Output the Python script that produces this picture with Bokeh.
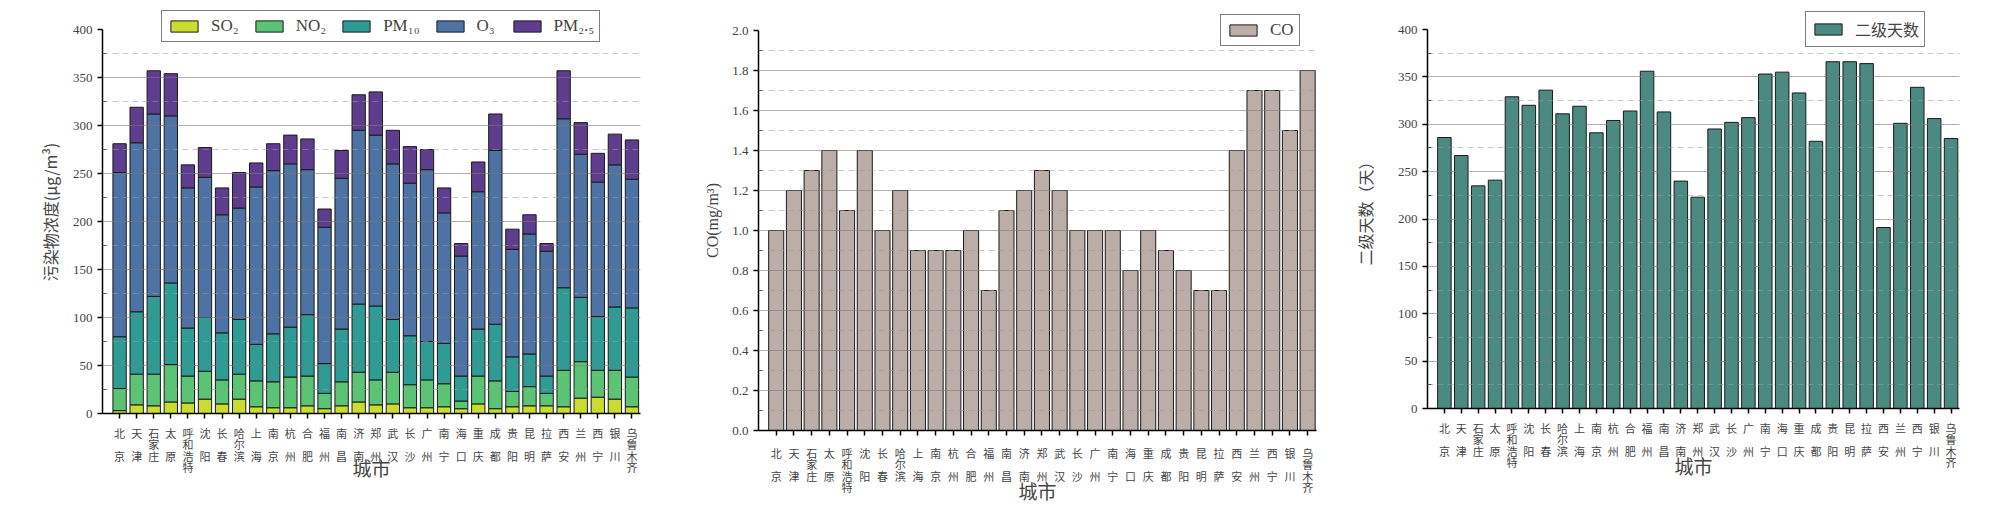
from bokeh.plotting import figure
from bokeh.layouts import row
from bokeh.models import FixedTicker, Legend, LegendItem, ColumnDataSource, Range1d, PrintfTickFormatter
from bokeh.embed import file_html
from bokeh.resources import INLINE

cities = ["北京", "天津", "石家庄", "太原", "呼和浩特", "沈阳", "长春", "哈尔滨", "上海", "南京",
          "杭州", "合肥", "福州", "南昌", "济南", "郑州", "武汉", "长沙", "广州", "南宁",
          "海口", "重庆", "成都", "贵阳", "昆明", "拉萨", "西安", "兰州", "西宁", "银川", "乌鲁木齐"]

so2 = [3, 9, 8, 12, 11, 15, 10, 15, 7, 6, 6, 8, 5, 8, 12, 9, 10, 6, 6, 7, 5, 10, 5, 7, 8, 8, 7, 16, 17, 15, 7]
no2 = [23, 32, 33, 39, 28, 29, 25, 26, 27, 27, 32, 31, 16, 25, 31, 26, 33, 24, 29, 24, 8, 29, 29, 16, 20, 13, 38, 38, 28, 30, 31]
pm10 = [54, 65, 81, 85, 50, 56, 49, 57, 38, 50, 52, 64, 31, 55, 71, 77, 55, 51, 40, 42, 26, 49, 59, 36, 34, 18, 86, 67, 56, 66, 72]
o3 = [171, 176, 190, 174, 146, 146, 123, 116, 164, 170, 170, 151, 142, 157, 181, 178, 162, 159, 179, 136, 125, 143, 181, 112, 125, 130, 176, 149, 140, 148, 134]
pm25 = [30, 37, 45, 44, 24, 31, 28, 37, 25, 28, 30, 32, 19, 29, 37, 45, 35, 38, 21, 26, 13, 31, 38, 21, 20, 8, 50, 33, 30, 32, 41]
co = [1.0, 1.2, 1.3, 1.4, 1.1, 1.4, 1.0, 1.2, 0.9, 0.9, 0.9, 1.0, 0.7, 1.1, 1.2, 1.3, 1.2, 1.0, 1.0, 1.0, 0.8, 1.0, 0.9, 0.8, 0.7, 0.7, 1.4, 1.7, 1.7, 1.5, 1.8]
days = [286, 267, 235, 241, 329, 320, 336, 311, 319, 291, 304, 314, 356, 313, 240, 223, 295, 302, 307, 353, 355, 333, 282, 366, 366, 364, 191, 301, 339, 306, 285]

pollutant_labels = ["SO₂", "NO₂", "PM₁₀", "O₃", "PM₂.₅"]
pollutant_colors = ["#c9dc2f", "#5bc474", "#2e9b95", "#4d72a4", "#5e3d8f"]

xs = list(range(1, len(cities) + 1))


def tick_label(c):
    if len(c) == 2:
        return c[0] + "\n\n" + c[1]
    return "\n".join(c)


tick_labels = {i: tick_label(c) for i, c in zip(xs, cities)}

SERIF = "Liberation Serif"
CJK = "Noto Sans CJK SC"
TOP = 10
BOTTOM = 80


def make_fig(fw, fh, bl, br, yr):
    p = figure(frame_width=fw, frame_height=fh, min_border_left=bl, min_border_right=br,
               min_border_top=TOP, min_border_bottom=BOTTOM, output_backend="svg",
               toolbar_location=None, x_range=Range1d(0, 31.5), y_range=Range1d(*yr),
               outline_line_color=None, background_fill_color="white")
    return p


def style(p, ylabel, yticks, yminor, gticks, gminor, ylabel_font, ybounds, fmt=None,
          lab_standoff=6, xl_standoff=-4, yl_standoff=8):
    xa = p.xaxis[0]
    xa.ticker = FixedTicker(ticks=xs)
    xa.major_label_overrides = tick_labels
    xa.major_label_text_font = CJK
    xa.major_label_text_font_size = "11px"
    xa.major_label_text_line_height = 0.72
    xa.major_label_standoff = lab_standoff
    xa.major_tick_out = 5
    xa.major_tick_in = 0
    xa.minor_tick_out = 0
    xa.minor_tick_in = 0
    xa.axis_line_width = 1.5
    xa.major_tick_line_width = 1.5
    xa.axis_label = "城市"
    xa.axis_label_text_font = CJK
    xa.axis_label_text_font_size = "19px"
    xa.axis_label_text_font_style = "normal"
    xa.axis_label_standoff = xl_standoff

    ya = p.yaxis[0]
    ya.ticker = FixedTicker(ticks=yticks, minor_ticks=yminor)
    ya.bounds = ybounds
    if fmt:
        ya.formatter = PrintfTickFormatter(format=fmt)
    ya.major_label_text_font = SERIF
    ya.major_label_text_font_size = "13px"
    ya.major_tick_out = 5
    ya.major_tick_in = 0
    ya.minor_tick_out = 0
    ya.minor_tick_in = 4
    ya.axis_line_width = 1.5
    ya.major_tick_line_width = 1.5
    ya.axis_label = ylabel
    ya.axis_label_text_font = ylabel_font
    ya.axis_label_text_font_size = "16px"
    ya.axis_label_text_font_style = "normal"
    ya.axis_label_standoff = yl_standoff

    p.xgrid.visible = False
    g = p.ygrid[0]
    g.ticker = FixedTicker(ticks=gticks, minor_ticks=gminor)
    g.grid_line_color = "#7a7a7a"
    g.grid_line_alpha = 0.6
    g.grid_line_width = 1.2
    g.minor_grid_line_color = "#9a9a9a"
    g.minor_grid_line_alpha = 0.55
    g.minor_grid_line_dash = "6 4"
    g.level = "guide"


def style_legend(lg, font, size, spacing=12):
    lg.orientation = "horizontal"
    lg.border_line_color = "black"
    lg.border_line_width = 1
    lg.background_fill_color = "white"
    lg.background_fill_alpha = 1
    lg.padding = 5
    lg.spacing = spacing
    lg.margin = 0
    lg.label_standoff = 10
    lg.glyph_width = 34
    lg.glyph_height = 14
    lg.label_text_font = font
    lg.label_text_font_size = size
    lg.label_height = 14


# ---------- panel 1: stacked pollutants (frame 10..413, 400 at y=29) ----------
src1 = ColumnDataSource(dict(x=xs, so2=so2, no2=no2, pm10=pm10, o3=o3, pm25=pm25))
p1 = make_fig(538, 403, 102, 30, (0, 400 * 403 / 384))
rs = p1.vbar_stack(["so2", "no2", "pm10", "o3", "pm25"], x="x", width=0.78, source=src1,
                   fill_color=pollutant_colors, line_color="#1a1a1a", line_width=1)
style(p1, "污染物浓度(μg/m³)", list(range(0, 401, 50)), list(range(25, 400, 50)),
      list(range(50, 351, 50)), list(range(25, 376, 50)), CJK, (0, 400), xl_standoff=-24)
lg1 = Legend(items=[LegendItem(label=l, renderers=[r]) for l, r in zip(pollutant_labels, rs)],
             location=(59, 371))
style_legend(lg1, SERIF, "17px", spacing=13)
p1.add_layout(lg1)

# ---------- panel 2: CO (frame 10..430, 2.0 at y=30) ----------
src2 = ColumnDataSource(dict(x=xs, co=co))
p2 = make_fig(558, 420, 88, 20, (0, 2.1))
r2 = p2.vbar(x="x", top="co", width=0.85, source=src2, fill_color="#bbaea8",
             line_color="#1a1a1a", line_width=1)
co_ticks = [round(0.2 * i, 1) for i in range(11)]
co_minor = [round(0.1 + 0.2 * i, 1) for i in range(10)]
style(p2, "CO(mg/m³)", co_ticks, co_minor, co_ticks[1:-1], co_minor, SERIF, (0, 2.0), fmt="%.1f",
      lab_standoff=9, xl_standoff=-21)
lg2 = Legend(items=[LegendItem(label="CO", renderers=[r2])], location=(462, 384))
style_legend(lg2, SERIF, "17px")
p2.add_layout(lg2)

# ---------- panel 3: days (frame 10..408, 400 at y=29) ----------
src3 = ColumnDataSource(dict(x=xs, days=days))
p3 = make_fig(532, 398, 91, 33, (0, 400 * 398 / 379))
r3 = p3.vbar(x="x", top="days", width=0.8, source=src3, fill_color="#4b8a80",
             line_color="#1a1a1a", line_width=1)
style(p3, "二级天数（天）", list(range(0, 401, 50)), list(range(25, 400, 50)),
      list(range(50, 351, 50)), list(range(25, 376, 50)), CJK, (0, 400), xl_standoff=-21,
      yl_standoff=18)
lg3 = Legend(items=[LegendItem(label="二级天数", renderers=[r3])], location=(378, 361))
style_legend(lg3, CJK, "16px")
p3.add_layout(lg3)

layout = row(p1, p2, p3)
open("out.html", "w").write(file_html(layout, INLINE))
